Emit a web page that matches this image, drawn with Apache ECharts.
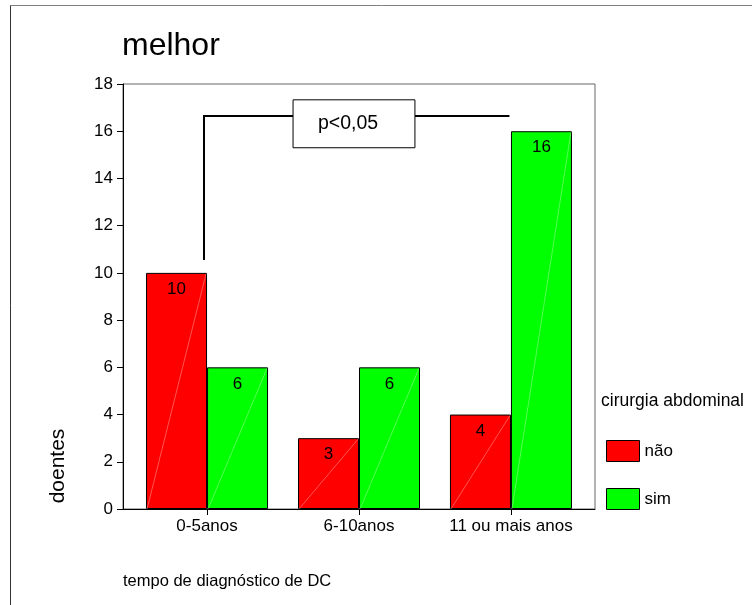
<!DOCTYPE html>
<html>
<head>
<meta charset="utf-8">
<script src="https://cdn.jsdelivr.net/npm/echarts@6/dist/echarts.min.js"></script>
<style>html,body{margin:0;padding:0;background:#fff}#c{width:752px;height:605px}</style>
</head>
<body>
<div id="c"></div>
<script>
var categories = ['0-5anos', '6-10anos', '11 ou mais anos'];
var seriesNames = ['não', 'sim'];
var naoValues = [10, 3, 4];
var simValues = [6, 6, 16];
var yTicks = [0, 2, 4, 6, 8, 10, 12, 14, 16, 18];
var titleText = 'melhor';
var xTitle = 'tempo de diagnóstico de DC';
var yTitle = 'doentes';
var legendTitle = 'cirurgia abdominal';
var pText = 'p<0,05';
// bracket annotation in data units: [x, y]
var bracketLeft = [-0.02, 10.55];
var bracketTopY = 16.65;
var bracketRightX = 1.99;
var boxX = [0.566, 1.368];
var boxY = [15.3, 17.33];

var FONT = '"Liberation Sans", Arial, sans-serif';
var BAR_W = 61;
var chart = echarts.init(document.getElementById('c'), null, {renderer: 'canvas'});

function toPairs(vals) { return vals.map(function (v, i) { return [i, v]; }); }
var idx = categories.map(function (c, i) { return i; });

function diagSeries(vals, side) {
  return {
    type: 'custom', silent: true, z: 3, data: toPairs(vals),
    renderItem: function (params, api) {
      var p0 = api.coord([api.value(0), 0]);
      var p1 = api.coord([api.value(0), api.value(1)]);
      var xl = side < 0 ? p0[0] - BAR_W : p0[0];
      var xr = side < 0 ? p0[0] : p0[0] + BAR_W;
      return {type: 'line', shape: {x1: xl + 1, y1: p0[1], x2: xr - 1, y2: p1[1] + 1},
        style: {stroke: 'rgba(255,255,255,0.55)', lineWidth: 0.6}};
    }
  };
}

var option = {
  animation: false,
  backgroundColor: '#fff',
  textStyle: {fontFamily: FONT},
  grid: {left: 123, top: 84, right: 157, bottom: 96, show: true, borderColor: '#666', borderWidth: 1, backgroundColor: 'transparent'},
  xAxis: {
    type: 'value', min: -0.553, max: 2.553,
    axisLine: {show: true, onZero: false, lineStyle: {color: '#000', width: 1}},
    axisTick: {show: true, customValues: idx, length: 6, lineStyle: {color: '#000'}},
    axisLabel: {show: true, customValues: idx, margin: 9, color: '#000', fontSize: 17, fontFamily: FONT,
      formatter: function (v) { return categories[Math.round(v)]; }},
    splitLine: {show: false}
  },
  yAxis: {
    type: 'value', min: yTicks[0], max: yTicks[yTicks.length - 1], interval: yTicks[1] - yTicks[0],
    axisLine: {show: true, onZero: false, lineStyle: {color: '#000', width: 1}},
    axisTick: {show: true, length: 6, lineStyle: {color: '#000'}},
    axisLabel: {margin: 10, color: '#000', fontSize: 17, fontFamily: FONT},
    splitLine: {show: false}
  },
  legend: {
    show: true, orient: 'vertical', left: 606, top: 440, padding: 0, itemWidth: 33, itemHeight: 21, itemGap: 26,
    icon: 'rect', data: seriesNames,
    textStyle: {fontSize: 17, color: '#000', fontFamily: FONT}, itemStyle: {borderColor: '#000', borderWidth: 1}
  },
  series: [
    {name: seriesNames[0], type: 'bar', data: toPairs(naoValues), barWidth: BAR_W, barGap: '0%',
      itemStyle: {color: '#ff0000', borderColor: '#000', borderWidth: 1},
      label: {show: true, position: 'insideTop', distance: 8, color: '#000', fontSize: 17, fontFamily: FONT}},
    {name: seriesNames[1], type: 'bar', data: toPairs(simValues), barWidth: BAR_W, barGap: '0%',
      itemStyle: {color: '#00ff00', borderColor: '#000', borderWidth: 1},
      label: {show: true, position: 'insideTop', distance: 8, color: '#000', fontSize: 17, fontFamily: FONT}},
    diagSeries(naoValues, -1),
    diagSeries(simValues, 1)
  ]
};
chart.setOption(option);

function px(x, y) { return chart.convertToPixel({gridIndex: 0}, [x, y]); }
var pBL = px(bracketLeft[0], bracketLeft[1]);
var pTL = px(bracketLeft[0], bracketTopY);
var pTR = px(bracketRightX, bracketTopY);
var b1 = px(boxX[0], boxY[1]);
var b2 = px(boxX[1], boxY[0]);

chart.setOption({
  graphic: [
    {type: 'line', shape: {x1: 10.5, y1: 5.5, x2: 752, y2: 5.5}, style: {stroke: '#808080', lineWidth: 1}},
    {type: 'line', shape: {x1: 10.5, y1: 5.5, x2: 10.5, y2: 605}, style: {stroke: '#333', lineWidth: 1}},
    {type: 'text', left: 122, top: 30, style: {text: titleText, fontSize: 32, fill: '#000', fontFamily: FONT}},
    {type: 'text', x: 58, y: 466, rotation: Math.PI / 2, style: {text: yTitle, fontSize: 21, fill: '#000', fontFamily: FONT, align: 'center', verticalAlign: 'middle'}},
    {type: 'text', left: 123, top: 573, style: {text: xTitle, fontSize: 16.5, fill: '#000', fontFamily: FONT}},
    {type: 'text', left: 601, top: 392, style: {text: legendTitle, fontSize: 17.5, fill: '#000', fontFamily: FONT}},
    {type: 'polyline', shape: {points: [pBL, pTL, [b1[0], pTL[1]]]}, style: {stroke: '#000', lineWidth: 2, fill: null}},
    {type: 'line', shape: {x1: b2[0], y1: pTR[1], x2: pTR[0], y2: pTR[1]}, style: {stroke: '#000', lineWidth: 2}},
    {type: 'rect', shape: {x: b1[0], y: b1[1], width: b2[0] - b1[0], height: b2[1] - b1[1]}, style: {fill: '#fff', stroke: '#000', lineWidth: 1}},
    {type: 'text', x: (b1[0] + b2[0]) / 2 - 6, y: (b1[1] + b2[1]) / 2, style: {text: pText, fontSize: 19.5, fill: '#000', fontFamily: FONT, align: 'center', verticalAlign: 'middle'}}
  ]
});
</script>
</body>
</html>
